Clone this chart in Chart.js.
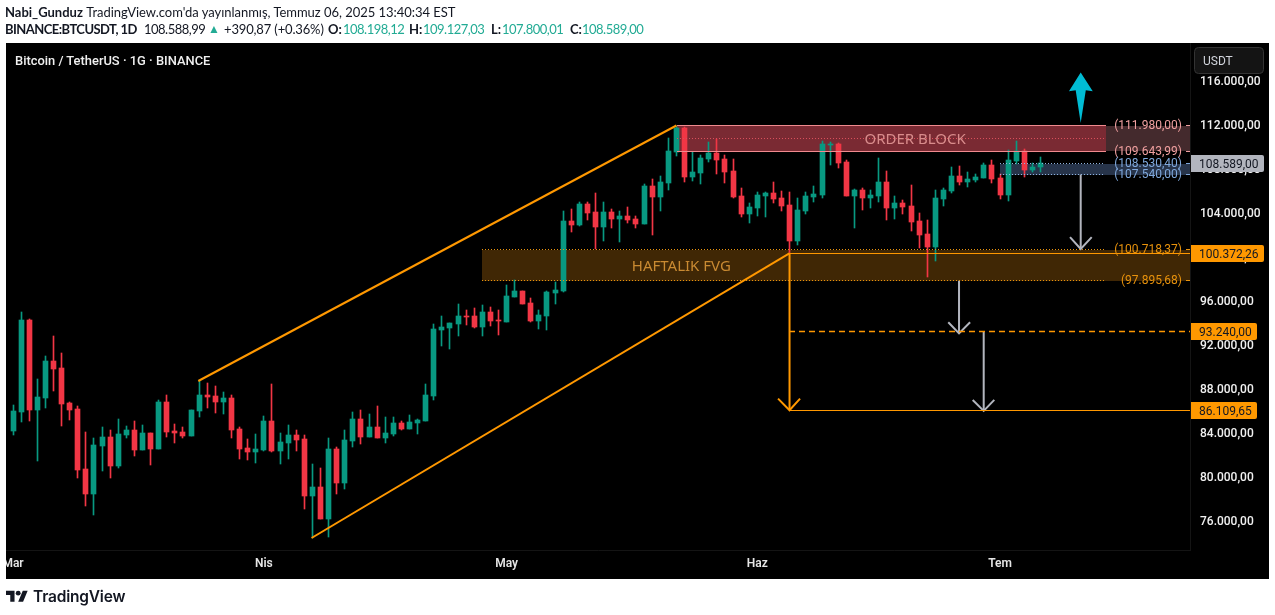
<!DOCTYPE html>
<html><head><meta charset="utf-8">
<style>
html,body{margin:0;padding:0;background:#fff;width:1275px;height:615px;overflow:hidden}
canvas{position:absolute;left:0;top:0}
.t{position:absolute;font-family:Lato,sans-serif;font-size:13px;color:#131722;white-space:nowrap;line-height:16px}
.b{font-weight:700}.g{color:#22ab94}.n{letter-spacing:-.5px}
</style>
<script src="https://cdn.jsdelivr.net/npm/chart.js@4"></script>
</head><body>
<canvas id="c" width="1275" height="615"></canvas>
<div class="t" style="left:5px;top:4px"><span class="b">Nabi_Gunduz</span> <span style="letter-spacing:-.03px">TradingView.com'da yayınlanmış, Temmuz 06, 2025 13:40:34 EST</span></div>
<div class="t b" style="left:5px;top:21px;letter-spacing:-.55px">BINANCE:BTCUSDT, 1D</div>
<div class="t n" style="left:144px;top:21px">108.588,99</div>
<div class="t g" style="left:208px;top:21px;font-size:12px">▲</div>
<div class="t" style="left:224px;top:21px;letter-spacing:-.15px">+390,87 (+0.36%)</div>
<div class="t b" style="left:328px;top:21px">O:</div><div class="t g n" style="left:343px;top:21px">108.198,12</div>
<div class="t b" style="left:409px;top:21px">H:</div><div class="t g n" style="left:423px;top:21px">109.127,03</div>
<div class="t b" style="left:491px;top:21px">L:</div><div class="t g n" style="left:502px;top:21px">107.800,01</div>
<div class="t b" style="left:570px;top:21px">C:</div><div class="t g n" style="left:582px;top:21px">108.589,00</div>
<div class="t" style="left:15px;top:53px;color:#f0f0f0;font-family:Roboto,sans-serif;font-weight:500;font-size:12.9px">Bitcoin / TetherUS · 1G · BINANCE</div>
<div class="t" style="left:33px;top:587px;font-family:Inter,sans-serif;font-weight:600;font-size:15.5px;line-height:20px;letter-spacing:-.2px">TradingView</div>
<script>
const xTickPositions=[0,31,61,92,122];
const xTickLabels=['Mar','Nis','May','Haz','Tem'];
const yTickValues=[76000,80000,84000,88000,92000,96000,100000,104000,108000,112000,116000];
const openPrices=[84210,85940,94300,86120,87210,90580,89940,86760,86210,80760,
78480,82850,83670,81030,83850,84300,82480,84030,82580,86850,
84210,84120,83760,86030,87480,87390,86850,87210,84390,82670,
82300,82480,85120,82390,83120,83850,83480,78300,79120,76210,
82580,79480,83300,85300,83670,84580,83580,83940,84940,84390,
84940,85120,87390,93390,93580,93940,94670,94670,93670,95030,
94300,94120,96390,96940,95850,94210,94670,96760,96940,103300,
102940,104850,104120,102760,104120,103480,103760,103480,103030,106480,
105480,106760,109580,111760,107300,107670,108940,109480,108940,107850,
105580,103940,104480,105580,105850,105390,104760,101480,104210,105480,
105670,110210,110300,108670,105580,106120,105390,105580,106850,104480,
104940,104670,103300,102120,100940,105300,106030,107390,106850,107030,
107210,108390,107210,105670,108760,109670,107940,108198];
const highPrices=[86580,95030,94390,88940,91030,92850,91300,86850,86480,84120,
83580,84580,84300,85300,84670,85120,84760,84030,87030,87480,
84850,84580,86120,88760,88580,88300,87760,87480,84580,83480,
83940,85580,88480,84030,84760,84300,83850,81210,80850,83580,
82760,84300,85940,86120,85760,86480,85480,85480,85120,85670,
85300,88480,93940,94670,94030,95760,95210,95390,95670,95480,
95210,97480,97940,96940,96300,95210,96940,97760,104210,104390,
105030,105030,105850,105030,104390,104210,104580,103760,106670,107120,
107390,110850,111980,111850,109580,109300,110480,110760,109300,108940,
106300,104940,105940,105940,106850,106030,105940,105390,105940,106480,
110580,110480,110390,108850,106210,106300,106120,109030,107850,105580,
105210,106580,104030,103390,106120,106300,108210,108300,107760,107580,
108580,108850,107580,109760,110580,109850,108580,109127];
const lowPrices=[83850,85030,85120,81480,86300,87850,84670,85210,79940,77390,
76580,80580,79940,80850,83580,81940,82480,81120,82580,83670,
83120,83580,83760,85480,86300,85850,85760,83580,81670,81580,
81300,82390,82300,81210,81670,82390,77120,74480,76210,74580,
78480,78940,82760,83030,83670,83580,83120,83760,84300,84390,
83940,85120,87030,91940,91670,92850,93850,93580,92850,93760,
92940,94120,96390,95760,94120,93480,93390,95760,96850,102300,
102850,103390,100760,101480,102670,101390,103120,102670,103030,102030,
104210,106120,109210,106850,106940,106670,108670,107580,106760,105390,
103670,103120,103760,103670,104940,104210,100390,101120,103940,105030,
105390,108390,108120,105580,102670,104300,104480,105030,103390,103480,
103940,102390,100850,98210,99670,104670,105850,106580,106390,106850,
107210,106760,105300,105120,108480,107300,107760,107800];
const closePrices=[86030,94300,86120,87300,90580,89850,86670,86120,80670,78480,
82940,83670,81030,83940,84300,82480,84030,82580,86850,84120,
84030,83760,86120,87480,87300,86850,87210,84300,82580,82300,
82580,85120,82390,83210,83850,83390,78300,79120,76210,82580,
79480,83390,85300,83670,84580,83580,84030,84940,84390,85030,
85210,87480,93480,93670,94030,94670,94580,93670,95030,94210,
94210,96480,96940,95760,94210,94760,96850,97030,103300,102940,
104850,104030,102760,104120,103480,103760,103390,103030,106480,105480,
106850,109670,111760,107300,107760,109030,109480,108850,107760,105480,
103940,104580,105670,105850,105300,104670,101480,104300,105580,105760,
110300,110300,108580,105580,106120,105390,105670,106850,104480,104940,
104580,103210,102030,100940,105390,106120,107390,106850,107120,107300,
108390,107120,105670,108850,109670,107940,108210,108589];
const orderBlockPrices=[111980.00,109643.99];
const orderBlockMid=110812;
const fvgPrices=[100718.37,97895.68];
const entryPrices=[108530.40,107540.00];
const targetPrices=[100372.26,93240.00,86109.65];
const lastPrice=108589.00;
const upperChannelX=[22.9,82.0], upperChannelY=[88773,112000];
const lowerChannelX=[36.9,95.96], lowerChannelY=[74500,100372];
const UP='#089981',DOWN='#F23645',OR='#FF9800',GREY='#b2b5be';
const fmt=v=>{const s=Number(v).toFixed(2).split('.');return s[0].replace(/\B(?=(\d{3})+$)/g,'.')+','+s[1]};
const colors=openPrices.map((o,i)=>closePrices[i]>=o?UP:DOWN);
const XMIN=-0.871,XMAX=145.48;
function seg(xs,ys,color,width,opt={}){return Object.assign({type:'line',data:xs.map((x,i)=>({x,y:ys[i]})),borderColor:color,borderWidth:width,pointRadius:0,tension:0,fill:false,order:0,borderCapStyle:'butt'},opt)}
const lines=[
 seg(upperChannelX,upperChannelY,OR,2),
 seg(lowerChannelX,lowerChannelY,OR,2),
 seg([82.03,135.1],[orderBlockPrices[0],orderBlockPrices[0]],'#f08a8e',1,{crisp:1}),
 seg([82.03,135.1],[orderBlockPrices[1],orderBlockPrices[1]],'#f08a8e',1,{crisp:1}),
 seg([82.03,134.8],[orderBlockMid,orderBlockMid],'#d9505c',1,{crisp:1,borderDash:[1,2]}),
 seg([57.97,134.8],[fvgPrices[0],fvgPrices[0]],'#e8920c',1,{crisp:1,borderDash:[1,2]}),
 seg([57.97,134.8],[fvgPrices[1],fvgPrices[1]],'#e8920c',1,{crisp:1,borderDash:[1,2]}),
 seg([122,134.8],[entryPrices[0],entryPrices[0]],'#8fb4e0',1,{crisp:1,borderDash:[1,2]}),
 seg([122,134.8],[entryPrices[1],entryPrices[1]],'#8fb4e0',1,{crisp:1,borderDash:[1,2]}),
 seg([95.96,XMAX],[targetPrices[0],targetPrices[0]],OR,1.2,{crisp:1}),
 seg([95.96,XMAX],[targetPrices[1],targetPrices[1]],OR,1.6,{crisp:1,borderDash:[6,4]}),
 seg([95.96,XMAX],[targetPrices[2],targetPrices[2]],OR,1.2,{crisp:1}),
 seg([95.98,95.98],[targetPrices[0],targetPrices[2]],OR,2),
 seg([94.56,95.98,97.28],[87170,targetPrices[2],87170],OR,2),
 seg([131.97,131.97],[107540,100870],GREY,2),
 seg([130.65,131.97,133.33],[101852,100770,101852],GREY,2),
 seg([116.93,116.93],[97895.68,93150],GREY,2),
 seg([115.6,116.93,118.3],[94115,93100,94115],GREY,2),
 seg([119.98,119.98],[93240,86110],GREY,2),
 seg([118.62,119.98,121.29],[87052,86060,87052],GREY,2)
];
const wickData=highPrices.map((h,i)=>({x:i,y:[lowPrices[i],h]}));
const bodyData=openPrices.map((o,i)=>({x:i,y:[o,closePrices[i]]}));
const upArrowX=[131.97,133.46,132.6,131.97,131.35,130.52];
const upArrowY=[116815,115113,115204,112228,115204,115113];
const zones=[
 {x:[82.03,135.1],p:orderBlockPrices,c:'#7a2a33'},
 {x:[135.1,XMAX],p:orderBlockPrices,c:'#442a2d'},
 {x:[57.97,XMAX],p:fvgPrices,c:'#402705'},
 {x:[122,XMAX],p:entryPrices,c:'#27344a'}
];
const levelLabels=[
 {v:orderBlockPrices[0],c:'#f0a0a0'},{v:orderBlockPrices[1],c:'#f0a0a0'},
 {v:entryPrices[0],c:'#7fa8dc'},{v:entryPrices[1],c:'#7fa8dc'},
 {v:fvgPrices[0],c:'#e8920c'},{v:fvgPrices[1],c:'#e8920c'}
];
const tags=[
 {v:lastPrice,bg:'#b2b5be',w:73},{v:targetPrices[0],bg:OR,w:73},
 {v:targetPrices[1],bg:OR,w:66},{v:targetPrices[2],bg:OR,w:66}
];
const logoPath=new Path2D('M14 22H7V11H0V4h14v18zM28 22h-8l7.5-18h8L28 22z');
const drawings={id:'drawings',
 beforeDraw(ch){const g=ch.ctx;g.save();g.fillStyle='#000';g.fillRect(6,43,1263,536);g.restore()},
 beforeDatasetsDraw(ch){
  const g=ch.ctx,X=ch.scales.x,Y=ch.scales.y;
  ch.data.datasets.forEach((d,i)=>{const m=ch.getDatasetMeta(i);
   if(m.type==='bar'){m.data.forEach(el=>{el.x=Math.floor(el.x)+.5;el.y=Math.round(el.y);el.base=Math.round(el.base);if(el.y===el.base)el.base=el.y+1})}
   else if(d.crisp){m.data.forEach(p=>{p.x=Math.round(p.x);p.y=Math.floor(p.y)+.5})}
  });
  g.save();
  zones.forEach(z=>{const x0=Math.round(X.getPixelForValue(z.x[0])),x1=Math.round(X.getPixelForValue(z.x[1])),y0=Math.round(Y.getPixelForValue(z.p[0])),y1=Math.round(Y.getPixelForValue(z.p[1]));g.fillStyle=z.c;g.fillRect(x0,y0,x1-x0,y1-y0)});
  g.restore();
 },
 afterDatasetsDraw(ch){
  const g=ch.ctx,X=ch.scales.x,Y=ch.scales.y;
  g.save();
  g.beginPath();upArrowX.forEach((x,i)=>{const a=X.getPixelForValue(x),b=Y.getPixelForValue(upArrowY[i]);i?g.lineTo(a,b):g.moveTo(a,b)});g.closePath();g.fillStyle='#00bcd4';g.fill();
  g.textBaseline='middle';g.textAlign='center';g.font='15px "Noto Sans"';
  g.fillStyle='#d98c8c';g.fillText('ORDER BLOCK',X.getPixelForValue(111.5),Y.getPixelForValue(orderBlockMid)+1);
  g.fillStyle='#c98a32';g.fillText('HAFTALIK FVG',X.getPixelForValue(82.6),Y.getPixelForValue(99350)+2);
  g.restore();
 },
 afterDraw(ch){
  const g=ch.ctx,Y=ch.scales.y;
  g.save();
  g.textBaseline='middle';g.font='12px Roboto';
  levelLabels.forEach(l=>{const y=Y.getPixelForValue(l.v);g.fillStyle=l.c;g.textAlign='right';g.fillText('('+fmt(l.v)+')',1182,y+.5);g.fillRect(1186,Math.floor(y),4,1)});
  tags.forEach(t=>{const y=Y.getPixelForValue(t.v),top=Math.round(y-8.5);g.fillStyle=t.bg;g.beginPath();g.roundRect(1191,top,t.w,17,[0,2,2,0]);g.fill();g.fillStyle='#131722';g.textAlign='left';g.fillText(fmt(t.v),1199,top+9.5)});
  g.fillStyle='#141414';g.strokeStyle='#333';g.lineWidth=1;g.beginPath();g.roundRect(1194.5,47.5,69,26,4);g.fill();g.stroke();
  g.fillStyle='#d1d4dc';g.textAlign='left';g.fillText('USDT',1203,62);
  g.fillStyle='#fff';g.fillRect(0,43,6,536);
  g.save();g.translate(6,588.3);g.scale(.61,.61);g.fillStyle='#131722';g.fill(logoPath);g.beginPath();g.arc(20,8,4,0,Math.PI*2);g.fill();g.restore();
  g.restore();
 }
};
new Chart(document.getElementById('c'),{
 type:'bar',
 data:{datasets:[
  ...lines,
  {type:'bar',data:bodyData,backgroundColor:colors,barThickness:5,grouped:false,order:1,borderWidth:0},
  {type:'bar',data:wickData,backgroundColor:colors,barThickness:1,grouped:false,order:2,borderWidth:0}
 ]},
 options:{responsive:false,animation:false,devicePixelRatio:1,
  layout:{padding:{left:6,top:43,right:6,bottom:36}},
  plugins:{legend:{display:false},tooltip:{enabled:false},title:{display:false}},
  scales:{
   x:{type:'linear',min:XMIN,max:XMAX,offset:false,position:'bottom',
    grid:{display:false,drawTicks:false,tickLength:0},border:{display:true,color:'#141414'},
    afterBuildTicks:s=>{s.ticks=xTickPositions.map(value=>({value}))},
    afterFit:s=>{s.height=29;s.paddingLeft=0;s.paddingRight=0},
    ticks:{autoSkip:false,maxRotation:0,padding:7,color:'#e6e6e6',font:{family:'Roboto',size:12,weight:'600'},callback:v=>xTickLabels[xTickPositions.indexOf(v)]}},
   y:{type:'linear',position:'right',min:73409,max:119500,
    grid:{display:false,drawTicks:false,tickLength:0},border:{display:true,color:'#141414'},
    afterBuildTicks:s=>{s.ticks=yTickValues.map(value=>({value}))},
    afterFit:s=>{s.width=79;s.paddingTop=0;s.paddingBottom=0},
    ticks:{autoSkip:false,padding:10,labelOffset:1,color:'#f0f0f0',font:{family:'Roboto',size:12,weight:'500'},callback:v=>fmt(v)}}
  }
 },
 plugins:[drawings]
});
</script>
</body></html>
